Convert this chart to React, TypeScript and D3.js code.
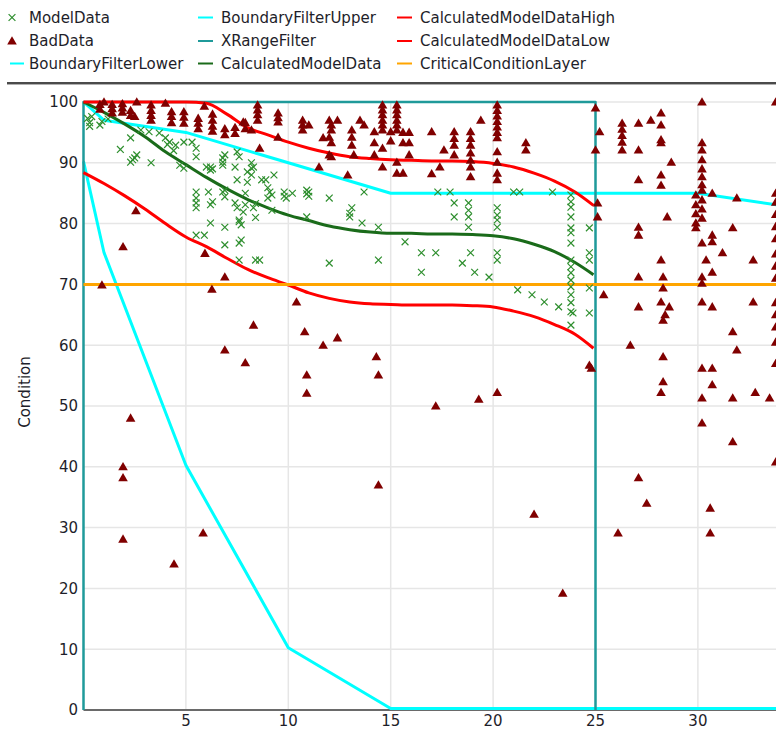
import React from "react";
import * as d3 from "d3";

// ---------- data ----------
const calcX = [0,1,2,3,4,5,6,7,8,9,10,11,12,13,14,15,16,17,18,19,20,21,22,23,24,24.9];
const calcY = [100,98.3,96.4,94.3,91.8,89.7,87.6,85.7,84.0,82.6,81.4,80.5,79.6,79.0,78.6,78.4,78.4,78.3,78.3,78.2,78.0,77.5,76.6,75.4,73.6,71.6];
const highY = [100,100,100,100,100,100,99.8,98.0,95.8,94.6,93.4,92.4,91.6,91.0,90.7,90.5,90.4,90.3,90.3,90.2,89.9,89.3,88.3,87.0,85.2,83.0];
const lowY = [88.4,86.6,84.6,82.4,80.0,77.8,76.2,74.3,72.5,71.1,69.9,68.6,67.7,67.1,66.8,66.7,66.6,66.6,66.6,66.5,66.3,65.6,64.7,63.4,61.8,59.5];

const upperX = [0,1,5,10,15,30,35];
const upperY = [100,97,95,90,85,85,82.5];
const lowerBX = [0,1,5,10,15,35];
const lowerBY = [90,75,40,10,0,0];
const rangeX = [0,0,25,25];
const rangeY = [0,100,100,0];
const criticalX = [0,35];
const criticalY = [70,70];

const badX = [0.8,0.8,1.0,1.4,1.4,1.4,1.9,1.9,1.9,2.3,2.3,2.6,2.5,3.3,3.3,3.3,3.3,4.0,4.3,4.3,4.3,4.9,4.9,4.9,5.6,5.6,5.6,5.9,6.3,6.3,6.3,6.3,6.9,6.9,7.4,7.4,7.9,7.9,
  8.5,8.5,8.5,8.5,7.8,8.2,9.5,9.5,9.5,9.5,8.6,10.7,10.7,10.7,11.0,12.0,12.4,12.1,12.1,12.0,11.7,12.1,12.0,12.1,11.5,12.9,13.1,13.1,13.1,13.2,13.5,13.7,
  14.6,14.6,14.6,14.6,14.6,14.6,14.2,14.2,14.2,14.6,14.6,15.3,15.3,15.3,15.3,15.3,15.3,15.0,15.0,15.6,15.9,15.6,15.9,15.9,15.3,15.3,15.6,
  17.0,17.0,17.4,17.6,18.1,18.1,18.1,18.1,18.9,18.9,18.9,18.9,18.9,18.9,18.9,19.4,20.2,20.2,20.2,20.2,20.2,20.2,20.2,20.2,20.2,20.2,20.2,21.6,21.6,
  25.0,25.0,25.2,25.1,25.1,26.3,26.3,26.3,26.3,26.3,27.1,27.1,27.1,27.7,28.2,28.2,28.2,28.2,28.7,28.2,28.2,27.1,27.1,28.5,28.2,
  30.2,30.2,30.2,30.2,30.2,30.2,30.2,30.2,29.9,29.9,29.9,29.9,29.9,30.2,30.2,30.2,30.7,30.7,30.7,30.2,30.4,30.7,31.2,31.7,31.9,32.7,
  33.8,33.8,33.8,33.8,33.8,33.8,33.8,33.8,33.8,
  27.1,28.3,28.3,30.2,30.2,25.4,27.1,28.2,28.6,28.4,28.3,30.2,30.7,32.7,31.7,31.9,26.7,28.3,24.7,24.8,30.2,30.7,30.7,28.3,28.2,30.2,31.7,32.8,33.5,30.2,31.7,33.8,33.8,33.8,33.8,33.8,33.8,
  27.1,27.5,26.1,30.6,30.6,22.0,23.4,
  1.93,1.93,1.93,4.42,5.84,14.4,
  0.9,2.3,6.27,6.9,8.3,6.9,7.9,
  10.4,10.8,10.9,10.9,11.7,12.4,14.3,14.4,17.2,19.3,20.2,
  2.56,1.93,5.93];
const badY = [99.6,98.8,100,99.6,98.9,98.2,99.7,99.0,98.3,98.6,97.8,100,97.6,99.5,98.6,97.8,97.0,99.8,98.4,97.6,96.6,98.4,97.5,96.5,97.3,96.5,95.6,99.3,98.0,97.0,96.0,95.2,95.6,94.6,95.8,94.8,95.6,96.6,
  99.5,98.7,97.9,97.0,96.7,95.4,98.2,97.4,96.7,94.2,92.4,97.0,96.2,95.4,96.2,97.0,97.0,96.2,95.4,94.2,94.1,93.3,91.3,91.0,89.3,88.0,95.4,94.2,92.9,91.3,97.0,96.2,
  99.5,98.7,97.9,97.0,96.2,95.4,95.1,93.3,91.3,92.4,89.3,99.5,98.7,97.9,97.0,96.2,95.4,95.1,93.6,95.0,95.0,93.3,93.3,91.3,90.1,88.3,88.3,
  95.1,88.2,89.3,92.1,95.1,94.0,92.9,91.3,95.1,94.0,92.9,91.6,90.4,89.3,87.7,97.0,99.5,98.6,97.7,96.8,95.9,95.0,94.1,91.8,90.1,88.3,87.2,93.3,92.1,
  99.0,92.1,95.1,83.4,81.1,96.5,95.5,94.5,93.4,92.1,96.5,92.1,87.2,97.0,98.2,96.2,93.8,93.3,90.1,88.0,86.3,79.4,78.1,81.1,74.0,
  100,93.3,92.1,90.5,89.0,87.7,86.4,85.5,84.7,83.1,81.6,80.1,79.3,83.9,82.4,80.9,85.0,78.1,77.0,76.8,74.0,72.0,75.2,79.3,84.2,74.0,
  100,85.0,83.5,81.5,79.5,77.5,75.0,73.0,71.0,
  71.2,71.2,69.4,71.2,70.2,68.3,66.3,67.1,66.3,65.0,64.1,67.1,66.3,67.1,62.2,59.2,60.0,58.1,56.7,56.2,56.2,56.2,53.5,54.0,52.2,51.3,51.3,52.2,51.3,47.2,44.1,40.8,67.0,65.0,63.0,60.5,57.0,
  38.2,34.0,29.1,33.2,29.1,32.2,19.2,
  40.0,38.2,28.1,24.0,29.1,37.0,
  69.9,48.0,69.2,71.2,63.3,59.2,57.1,
  67.1,62.2,55.1,52.1,60.0,61.2,58.1,55.1,50.0,51.1,52.2,
  82.1,76.2,75.1];

const modelX = [0.2,0.3,0.4,0.3,0.8,0.9,1.2,1.8,2.3,2.6,2.5,2.3,2.4,3.3,2.8,3.2,3.7,4.0,4.2,4.1,4.5,4.9,5.3,5.5,5.5,4.4,4.7,4.9,
  6.0,6.2,6.3,6.2,6.9,6.8,7.4,7.5,7.6,6.8,6.8,8.0,8.0,7.5,8.2,8.2,8.2,
  5.5,5.5,5.5,5.5,6.1,6.3,6.2,6.8,6.9,6.9,7.4,7.5,7.8,7.9,7.6,8.4,7.9,
  6.2,6.9,7.6,7.7,7.6,7.7,5.5,5.9,6.9,7.6,8.4,
  8.3,8.7,8.9,9.3,9.0,9.1,9.0,9.2,9.8,9.9,10.2,9.8,10.9,11.0,10.9,11.0,12.0,13.7,
  13.1,13.0,13.0,13.6,14.4,10.9,9.2,8.3,8.4,8.6,12.0,14.4,
  15.7,16.5,17.2,16.5,17.3,17.9,18.1,18.1,18.8,18.8,18.8,18.8,18.9,18.5,19.1,
  20.2,20.2,20.2,20.2,20.2,20.2,19.8,21.0,21.3,22.9,
  23.8,23.8,23.8,23.8,23.8,23.8,23.8,23.8,23.8,23.8,23.8,23.8,23.8,23.8,23.8,23.8,23.9,
  24.7,24.7,24.7,24.7,24.7,21.2,21.9,22.5,23.2];
const modelY = [97.3,96.6,97.6,96.0,96.2,96.8,97.2,92.2,94.1,91.3,90.8,90.1,90.5,90.0,95.4,95.1,94.9,94.1,93.4,93.0,92.9,93.4,93.4,92.4,91.0,92.0,89.6,89.1,
  89.3,89.3,89.0,88.8,91.3,90.1,89.3,91.8,91.0,90.8,89.6,88.5,86.8,87.2,90.0,89.1,88.0,
  85.2,84.2,83.4,82.6,85.2,83.6,83.1,85.2,84.4,85.5,83.4,82.6,81.9,83.1,80.6,83.3,85.0,
  80.1,79.4,80.3,79.8,76.8,77.3,78.1,78.1,76.5,74.0,74.0,
  89.3,87.2,87.2,88.0,85.9,85.2,84.2,84.7,85.2,84.2,85.0,84.5,85.5,84.5,84.9,85.2,84.2,85.2,
  82.6,81.7,81.1,80.1,79.4,81.1,82.2,82.6,81.0,74.0,73.5,74.0,
  77.0,75.2,75.2,72.0,85.2,85.2,83.4,81.1,83.4,82.2,81.1,79.4,75.2,73.5,72.0,
  82.6,81.4,80.6,79.4,75.2,74.0,71.2,85.2,85.2,85.2,
  84.7,83.6,82.7,81.1,79.3,78.5,76.8,74.0,72.9,71.9,70.7,69.6,68.3,67.0,65.5,63.3,65.3,
  79.3,75.2,74.0,69.4,65.3,69.1,68.3,67.1,66.3];

const xTicks = [5,10,15,20,25,30];
const yTicks = [0,10,20,30,40,50,60,70,80,90,100];

const legendCol1 = ["ModelData", "BadData", "BoundaryFilterLower"];
const legendCol2 = ["BoundaryFilterUpper", "XRangeFilter", "CalculatedModelData"];
const legendCol3 = ["CalculatedModelDataHigh", "CalculatedModelDataLow", "CriticalConditionLayer"];

// ---------- styles ----------
const W = 776, H = 730;
const FONT = "'DejaVu Sans', Verdana, sans-serif";
const FS = 15;
const TXT = "#1e1e2a";
const C = {
  model: "#2f8f2f",
  bad: "#800000",
  cyan: "#00ffff",
  teal: "#1f9a9a",
  green: "#1a6b1a",
  red: "#ff0000",
  orange: "#ffa500",
  grid: "#e6e6e6",
};

const x = d3.scaleLinear().domain([0, 35]).range([83.5, 83.5 + 35 * 20.48]);
const y = d3.scaleLinear().domain([0, 100]).range([710, 102]);

function zip(xs: number[], ys: number[]): [number, number][] {
  return xs.map((v, i) => [v, ys[i]]);
}

const linLine = d3.line<[number, number]>().x((d) => x(d[0])).y((d) => y(d[1]));
const smoothLine = d3.line<[number, number]>().x((d) => x(d[0])).y((d) => y(d[1])).curve(d3.curveMonotoneX);

const tri = "M0,-4.8L4.8,3.5L-4.8,3.5Z";
const cross = "M-3.4,-3.4L3.4,3.4M-3.4,3.4L3.4,-3.4";

function LegendLine({ x0, yy, color }: { x0: number; yy: number; color: string }) {
  return <line x1={x0} x2={x0 + 15} y1={yy} y2={yy} stroke={color} strokeWidth={2} />;
}

export default function App() {
  const rowBase = [22.5, 46, 68.5];
  const rowMid = rowBase.map((b) => b - 5);
  return (
    <div style={{ position: "absolute", left: 0, top: 0, width: W, height: H, background: "#fff" }}>
      <svg width={W} height={H} style={{ display: "block", fontFamily: FONT }}>
        <rect x={0} y={0} width={W} height={H} fill="#fff" />
        {/* legend */}
        <g fontSize={FS} fill={TXT}>
          <path d={cross} transform={`translate(12,${rowMid[0]})`} stroke={C.model} strokeWidth={1.2} fill="none" />
          <path d={tri} transform={`translate(12,${rowMid[1]})`} fill={C.bad} />
          <line x1={10} x2={24} y1={rowMid[2]} y2={rowMid[2]} stroke={C.cyan} strokeWidth={2} />
          {legendCol1.map((t, i) => (
            <text key={t} x={29} y={rowBase[i]}>{t}</text>
          ))}
          <LegendLine x0={198} yy={rowMid[0]} color={C.cyan} />
          <LegendLine x0={198} yy={rowMid[1]} color={C.teal} />
          <LegendLine x0={198} yy={rowMid[2]} color={C.green} />
          {legendCol2.map((t, i) => (
            <text key={t} x={221} y={rowBase[i]}>{t}</text>
          ))}
          <LegendLine x0={397} yy={rowMid[0]} color={C.red} />
          <LegendLine x0={397} yy={rowMid[1]} color={C.red} />
          <LegendLine x0={397} yy={rowMid[2]} color={C.orange} />
          {legendCol3.map((t, i) => (
            <text key={t} x={420} y={rowBase[i]}>{t}</text>
          ))}
        </g>
        <rect x={7} y={82} width={W - 7} height={2} fill="#4a4a4a" />
        <rect x={7} y={84} width={W - 7} height={1} fill="#b0b0b0" />

        {/* grid */}
        <g stroke={C.grid} strokeWidth={1.5}>
          {yTicks.map((t) => (
            <line key={"gy" + t} x1={x(0)} x2={W} y1={y(t)} y2={y(t)} />
          ))}
          {xTicks.map((t) => (
            <line key={"gx" + t} x1={x(t)} x2={x(t)} y1={y(100)} y2={y(0)} />
          ))}
        </g>
        {/* axis labels */}
        <g fontSize={FS} fill={TXT}>
          {yTicks.map((t) => (
            <text key={"ty" + t} x={78} y={y(t)} dy="0.36em" textAnchor="end">{t}</text>
          ))}
          {xTicks.map((t) => (
            <text key={"tx" + t} x={x(t)} y={726} textAnchor="middle">{t}</text>
          ))}
          <text transform={`translate(30,392) rotate(-90)`} textAnchor="middle">Condition</text>
        </g>
        <line x1={x(0)} x2={W} y1={y(0)} y2={y(0)} stroke="#6a6a6a" strokeWidth={2} />

        {/* series lines */}
        <g fill="none" strokeLinejoin="round">
          <path d={linLine(zip(lowerBX, lowerBY)) || ""} stroke={C.cyan} strokeWidth={3} transform="translate(0,-1.5)" />
          <path d={linLine(zip(upperX, upperY)) || ""} stroke={C.cyan} strokeWidth={3} />
          <path d={linLine(zip(rangeX, rangeY)) || ""} stroke={C.teal} strokeWidth={2.5} />
          <path d={smoothLine(zip(calcX, calcY)) || ""} stroke={C.green} strokeWidth={3} />
          <path d={smoothLine(zip(calcX, highY)) || ""} stroke={C.red} strokeWidth={3} />
          <path d={smoothLine(zip(calcX, lowY)) || ""} stroke={C.red} strokeWidth={3} />
          <path d={linLine(zip(criticalX, criticalY)) || ""} stroke={C.orange} strokeWidth={3} />
        </g>

        {/* scatter */}
        <g>
          {modelX.map((mx, i) => (
            <path key={"m" + i} d={cross} transform={`translate(${x(mx)},${y(modelY[i])})`} stroke={C.model} strokeWidth={1.2} fill="none" />
          ))}
          {badX.map((bx, i) => (
            <path key={"b" + i} d={tri} transform={`translate(${x(bx)},${y(badY[i])})`} fill={C.bad} />
          ))}
        </g>
      </svg>
    </div>
  );
}
